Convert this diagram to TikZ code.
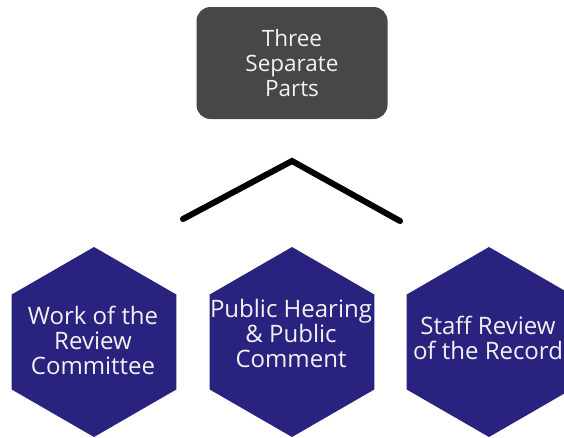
\documentclass[tikz,border=0pt]{standalone}
\usepackage{fontspec}
\setmainfont{Open Sans}
\usetikzlibrary{shapes.geometric}
\definecolor{boxgray}{HTML}{474747}
\definecolor{hexblue}{HTML}{29237F}
\definecolor{lighttext}{HTML}{F2F2F2}
\tikzset{
	hexa/.style={regular polygon, regular polygon sides=6, shape border rotate=30,
		minimum size=190pt, inner sep=0pt, fill=hexblue},
	parttext/.style={text=lighttext, align=center, inner sep=0pt,
		font=\fontsize{24}{25}\selectfont},
	topbox/.style={rounded corners=14pt, fill=boxgray, text=lighttext, align=center,
		minimum width=191pt, minimum height=112pt, font=\fontsize{22.5}{25}\selectfont}
}
\begin{document}
\begin{tikzpicture}[x=1pt,y=-1pt]
	\useasboundingbox (0,0) rectangle (564,437);
	\node[topbox] at (292,63) (top) {Three\\Separate\\Parts};
	
	\coordinate (lend) at (183,219);
	\coordinate (apex) at (292,161);
	\coordinate (rend) at (400,221);
	\draw[line width=6pt, line cap=round, line join=miter] (lend) -- (apex) -- (rend);
	
	\node[hexa] at (94,342) (work) {};
	\node[hexa] at (292,342) (hearing) {};
	\node[hexa] at (489,342) (staff) {};
	
	\node[parttext] at (93,340) (worktext) {Work of the\\Review\\Committee};
	\node[parttext] at (291,333) (hearingtext) {Public Hearing\\\& Public\\Comment};
	\node[parttext] at (488,338) (stafftext) {Staff Review\\of the Record};
\end{tikzpicture}
\end{document}
